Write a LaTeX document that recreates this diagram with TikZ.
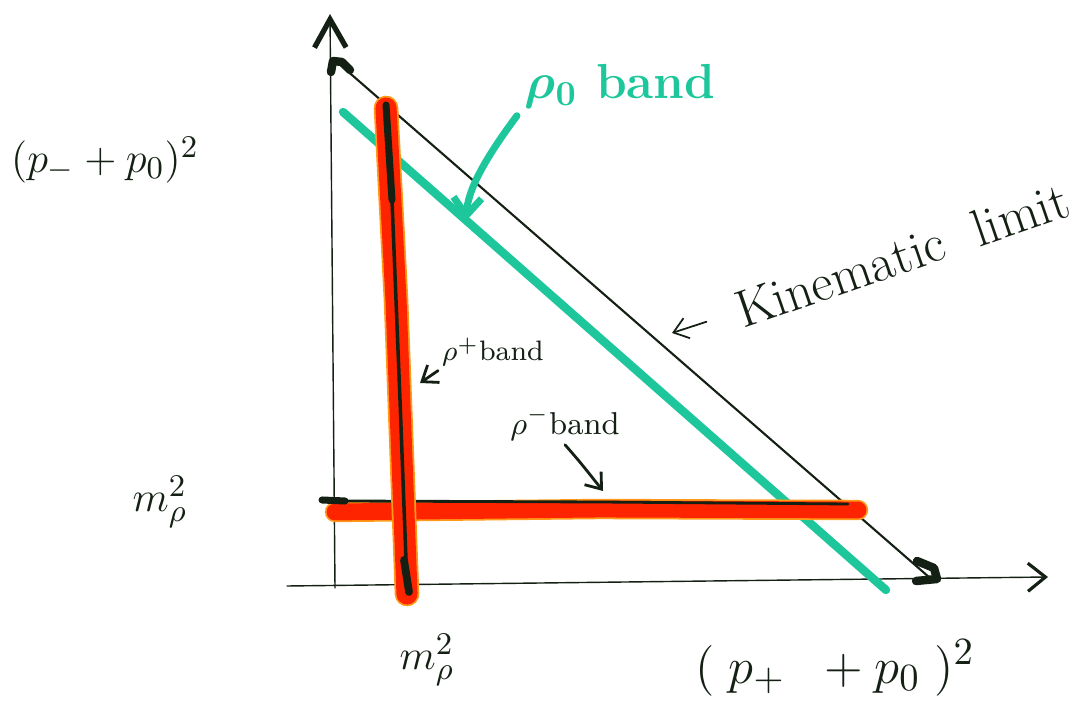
\documentclass[tikz,border=0pt]{standalone}
\usepackage{xcolor}
\definecolor{rhogreen}{HTML}{1EC79B}
\definecolor{bandred}{HTML}{FF2400}
\definecolor{bandedge}{HTML}{FF9A1A}
\definecolor{ink}{HTML}{152015}
\usepackage{tikz}
\usetikzlibrary{arrows.meta}

\begin{document}
\begin{tikzpicture}[x=0.01cm,y=-0.01cm,line cap=round,line join=round,
  lbl/.style={font=\fontsize{13}{13}\selectfont,text=ink,inner sep=0pt},
  tag/.style={font=\fontsize{8}{8}\selectfont,text=ink,inner sep=1pt},
  pen/.style={ink,line width=0.5pt},
  barb/.style={-{Straight Barb[length=4pt,width=6pt]}}]
  \useasboundingbox (0,0) rectangle (1079,719);
  % axes
  \coordinate (o) at (335,588);
  \coordinate (ytop) at (330,14);
  \coordinate (xstart) at (287,586);
  \coordinate (xend) at (1048,577);
  \draw[ink,line width=0.4pt,-{Straight Barb[line width=1.5pt,length=8pt,width=9pt]}] (o) -- (ytop);
  \draw[ink,line width=0.4pt,-{Straight Barb[line width=0.9pt,length=5pt,width=8pt]}] (xstart) -- (xend);
  % kinematic limit
  \coordinate (kltop) at (337,62);
  \coordinate (klbot) at (930,578);
  \draw[ink,line width=0.6pt] (kltop) -- (klbot);
  \draw[ink,line width=2.4pt] (331,72) -- (333,61) -- (342,62) -- (350,70);
  \draw[ink,line width=2.4pt] (917,561) -- (934,568) -- (937,579) -- (916,581);
  % rho0 band
  \draw[rhogreen,line width=2.4pt] (343,112) -- (886,590);
  % rho- band
  \draw[bandedge,line width=5.8pt] (335,512) -- (600,509) -- (858,510);
  \draw[bandred,line width=4.8pt] (335,512) -- (600,509) -- (858,510);
  \draw[ink,line width=2pt] (322,500) -- (345,501);
  \draw[ink,line width=0.8pt] (345,501) -- (600,502) -- (848,504);
  % rho+ band
  \draw[bandedge,line width=7pt] (386,108) -- (396,300) -- (407,594);
  \draw[bandred,line width=6pt] (386,108) -- (396,300) -- (407,594);
  \draw[ink,line width=2pt] (386,105) -- (392,200);
  \draw[ink,line width=1pt] (392,200) -- (400,400) -- (406,560);
  \draw[ink,line width=2.2pt] (404,560) -- (409,592);
  % labels
  \node[lbl] (ylab) at (105,160) {$(p_-+p_0)^2$};
  \node[lbl] (mrholeft) at (160,502) {$m_\rho^2$};
  \node[lbl] (mrhobottom) at (427,660) {$m_\rho^2$};
  \node[lbl,font=\fontsize{15}{15}\selectfont] (xlab) at (835,668) {$(\;p_+\;\;+p_0\;)^2$};
  \node[lbl,font=\fontsize{15}{15}\selectfont,rotate=19] (kinlim) at (902,255) {Kinematic\ \ limit};
  \node[inner sep=2pt,font=\fontsize{14}{14}\selectfont\bfseries\boldmath,text=rhogreen] (rhozero) at (620,86) {$\rho_0$ band};
  \node[tag] (rhoplus) at (493,352) {$\rho^+$band};
  \node[tag,font=\fontsize{9}{9}\selectfont] (rhominus) at (565,424) {$\rho^-$band};
  % pointers
  \coordinate (kltip) at (672,333);
  \coordinate (rztip) at (466,221);
  \coordinate (rptip) at (420,383);
  \coordinate (rmtip) at (603,491);
  \draw[pen,barb,shorten <=9pt] (kinlim.west) -- (kltip);
  \draw[rhogreen,line width=2pt,-{Straight Barb[length=5pt,width=8pt]}] (rhozero.south west) .. controls (484,160) and (468,190) .. (rztip);
  \draw[pen,line width=0.8pt,barb] (rhoplus.south west) -- (rptip);
  \draw[pen,line width=0.8pt,barb] (rhominus.south) .. controls (580,462) .. (rmtip);
\end{tikzpicture}
\end{document}
